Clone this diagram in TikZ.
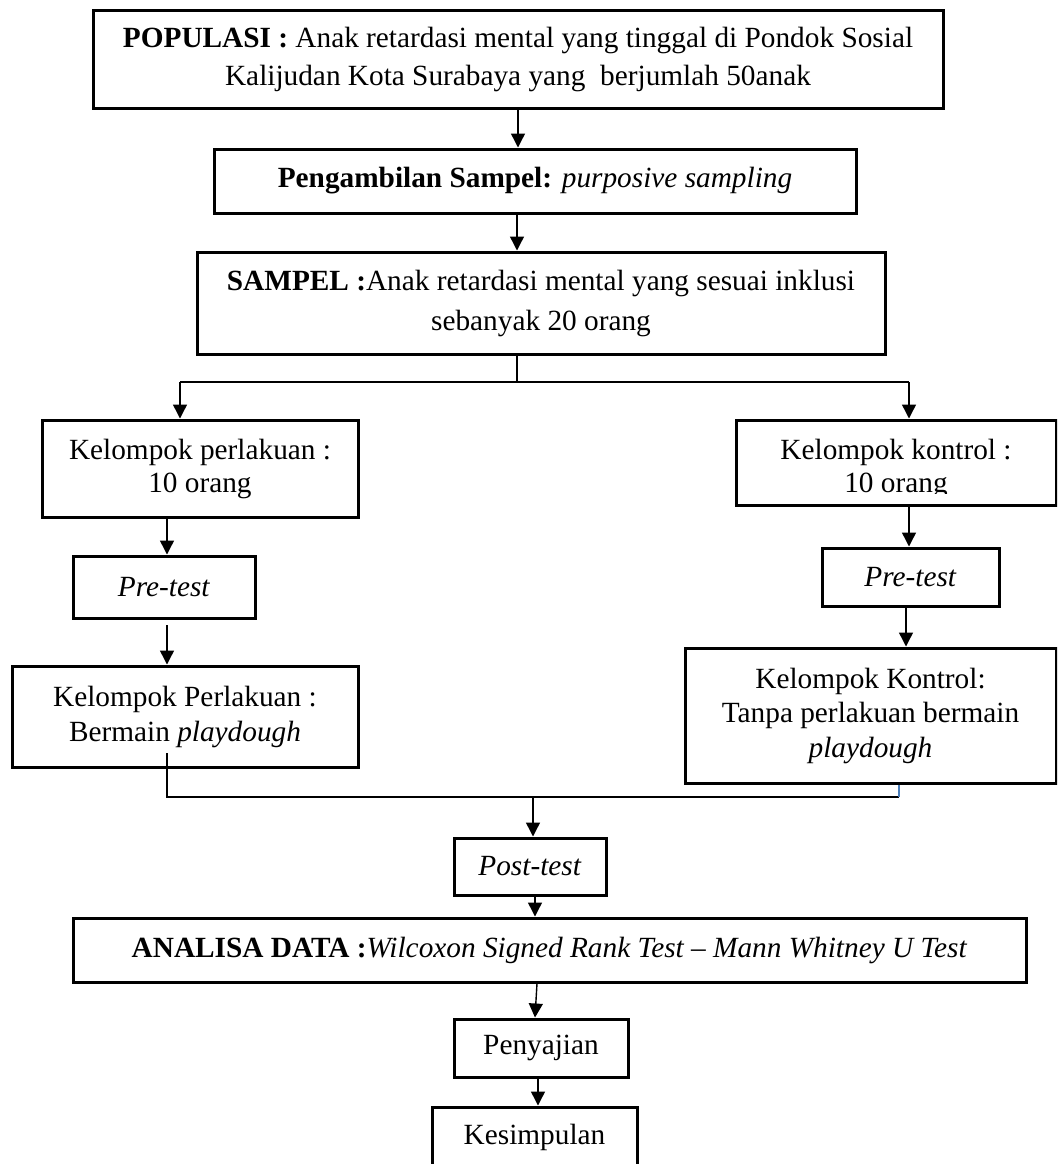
\documentclass[tikz,border=0pt]{standalone}
\usepackage{fontspec}
\setmainfont{Liberation Serif}
\usetikzlibrary{arrows.meta,calc}
\definecolor{segblue}{RGB}{74,126,187}
\begin{document}
\begin{tikzpicture}[x=0.5pt,y=-0.5pt,
  fs/.style={font=\fontsize{14.65}{#1}\selectfont},
  box/.style={draw, line width=1.5pt, inner sep=0pt, align=center, fs=17},
  txt/.style={inner sep=0pt, align=center, fs=17},
  sz/.style 2 args={minimum width=#1*0.5pt, minimum height=#2*0.5pt},
  ln/.style={line width=0.7pt},
  arr/.style={ln, -{Triangle[length=7pt,width=7pt]}},
  bl/.style={line width=0.6pt, draw=segblue}]
\useasboundingbox (0,0) rectangle (1057,1164);
\clip (0,0) rectangle (1057,1164);

% boxes
\node[box,sz={850}{98},fs=19] (pop) at (518,59) {\textbf{POPULASI :} Anak retardasi mental yang tinggal di Pondok Sosial\\Kalijudan Kota Surabaya yang\ \ berjumlah 50anak};
\node[box,sz={642}{64}] (ambil) at (535,181) {\textbf{Pengambilan Sampel:} \textit{purposive sampling}};
\node[box,sz={688}{102},fs=20] (sampel) at (541,303) {\textbf{SAMPEL :}Anak retardasi mental yang sesuai inklusi\\sebanyak 20 orang};
\node[box,sz={316}{97},fs=16.5] (l1) at (200,468.5) {Kelompok perlakuan :\\10 orang};
\node[box,sz={320}{85}] (r1) at (896,462.5) {};
\begin{scope}
  \clip (736,420) rectangle (1056,493);
  \node[txt,fs=16.5] (r1t) at (896,468.5) {Kelompok kontrol :\\10 orang};
\end{scope}
\node[box,sz={182}{62}] (l2) at (164,587) {\textit{Pre-test}};
\node[box,sz={177}{58}] (r2) at (910.5,577) {\textit{Pre-test}};
\node[box,sz={346}{101},fs=17.5] (l3) at (185,716.5) {Kelompok Perlakuan :\\Bermain \textit{playdough}};
\node[box,sz={371}{135},fs=17.25] (r3) at (870.5,715.5) {Kelompok Kontrol:\\Tanpa perlakuan bermain\\\textit{playdough}};
\node[box,sz={152}{57}] (post) at (530,866.5) {\textit{Post-test}};
\node[box,sz={953}{64}] (anal) at (549.5,950) {\textbf{ANALISA DATA :}\textit{Wilcoxon Signed Rank Test -- Mann Whitney U Test}};
\node[box,sz={174}{58}] (peny) at (541,1048) {Penyajian};
\node[box,sz={205}{61}] (kes) at (534.5,1137.5) {Kesimpulan};

% connectors
\coordinate (xa) at (518,0);
\draw[arr] (pop.south -| xa) -- (ambil.north -| xa);
\coordinate (xb) at (517,0);
\draw[arr] (ambil.south -| xb) -- (sampel.north -| xb);
\coordinate (j) at (517,382);
\coordinate (jl) at (180,382);
\coordinate (jr) at (909,382);
\draw[ln] (sampel.south -| j) -- (j);
\draw[ln] (jl) -- (jr);
\draw[arr] (jl) -- (jl |- l1.north);
\draw[arr] (jr) -- (jr |- r1.north);
\coordinate (xl) at (167,0);
\draw[arr] (l1.south -| xl) -- (l2.north -| xl);
\coordinate (l2o) at (167,625);
\draw[arr] (l2o) -- (l3.north -| l2o);
\coordinate (xr) at (909,0);
\draw[arr] (r1.south -| xr) -- (r2.north -| xr);
\coordinate (xr2) at (906,0);
\draw[arr] (r2.south -| xr2) -- (r3.north -| xr2);
\coordinate (ms) at (167,753);
\coordinate (ml) at (167,797);
\coordinate (mr) at (899,797);
\draw[ln] (ms) -- (ml) -- (mr);
\draw[bl] (mr) -- (r3.south -| mr);
\coordinate (mc) at (533,797);
\draw[arr] (mc) -- (post.north -| mc);
\coordinate (xp) at (535,0);
\draw[arr] (post.south -| xp) -- (anal.north -| xp);
\coordinate (xq) at (537,0);
\draw[arr] (anal.south -| xq) -- (peny.north -| xp);
\coordinate (xs) at (538,0);
\draw[arr] (peny.south -| xs) -- (kes.north -| xs);
\end{tikzpicture}
\end{document}
